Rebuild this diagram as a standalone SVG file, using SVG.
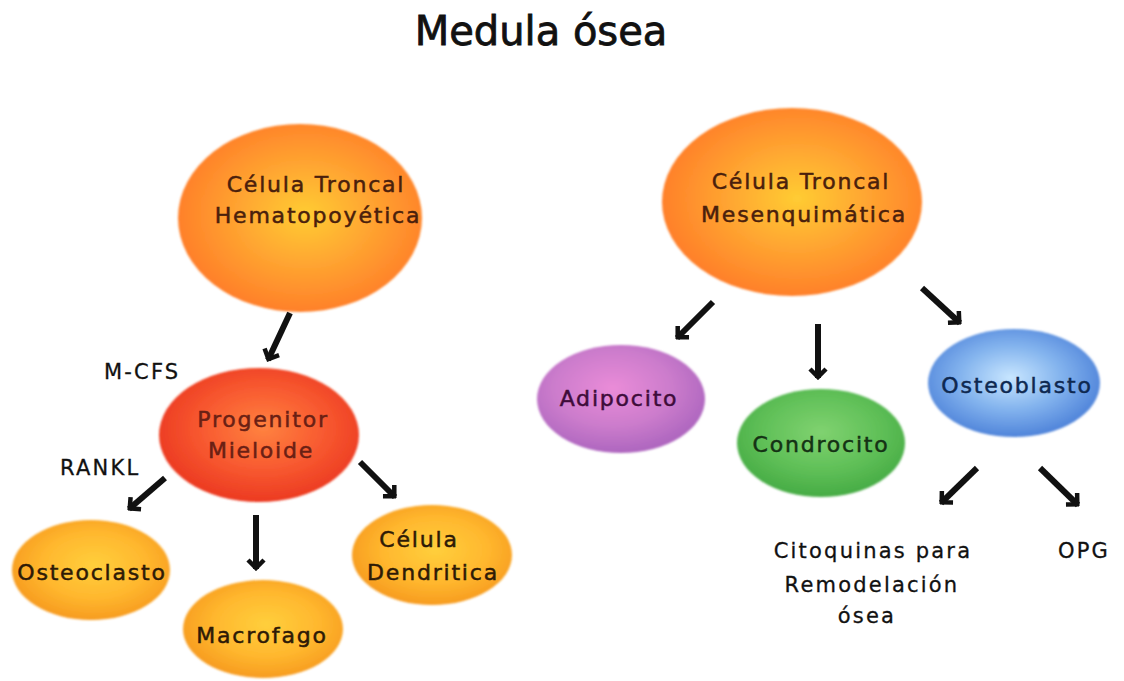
<svg xmlns="http://www.w3.org/2000/svg" width="1124" height="681" viewBox="0 0 1124 681">
<style>
  .title { font-family: "DejaVu Sans", Verdana, sans-serif; font-size: 40px; fill: #111; stroke: #111; stroke-width: 0.8px; }
  .nt { font-family: "DejaVu Sans", Verdana, sans-serif; font-size: 22px; letter-spacing: 1.8px; text-anchor: middle; stroke-width: 0.5px; }
  .lb { font-family: "DejaVu Sans", Verdana, sans-serif; font-size: 21px; letter-spacing: 2.2px; fill: #111; stroke: #111; stroke-width: 0.3px; }
  .conn line { stroke: #111; stroke-width: 6; marker-end: url(#chev); }
  .cell { filter: url(#soft); }
</style>
<defs>
  <filter id="soft" x="-10%" y="-10%" width="120%" height="120%">
    <feGaussianBlur stdDeviation="1.2"/>
  </filter>
  <marker id="chev" viewBox="-12 -10 14 20" refX="0" refY="0" markerWidth="14" markerHeight="20" markerUnits="userSpaceOnUse" orient="auto">
    <path d="M -9 -8 L -1 0 L -9 8" fill="none" stroke="#111" stroke-width="4.5"/>
  </marker>
  <radialGradient id="gBig" cx="52%" cy="48%" r="55%">
    <stop offset="0" stop-color="#ffcc34"/>
    <stop offset="0.5" stop-color="#ffa430"/>
    <stop offset="1" stop-color="#ff7c2a"/>
  </radialGradient>
  <radialGradient id="gRed" cx="52%" cy="45%" r="55%">
    <stop offset="0" stop-color="#ff8240"/>
    <stop offset="0.55" stop-color="#f85a30"/>
    <stop offset="1" stop-color="#ec3a22"/>
  </radialGradient>
  <radialGradient id="gSm" cx="52%" cy="45%" r="55%">
    <stop offset="0" stop-color="#ffcf3c"/>
    <stop offset="0.6" stop-color="#ffb72e"/>
    <stop offset="1" stop-color="#f79c20"/>
  </radialGradient>
  <radialGradient id="gPur" cx="45%" cy="40%" r="58%">
    <stop offset="0" stop-color="#ea8cd8"/>
    <stop offset="0.6" stop-color="#cc7ccc"/>
    <stop offset="1" stop-color="#b068c0"/>
  </radialGradient>
  <radialGradient id="gGrn" cx="50%" cy="40%" r="58%">
    <stop offset="0" stop-color="#80d270"/>
    <stop offset="0.6" stop-color="#60c058"/>
    <stop offset="1" stop-color="#48ad46"/>
  </radialGradient>
  <radialGradient id="gBlu" cx="48%" cy="45%" r="58%">
    <stop offset="0" stop-color="#c8e6ff"/>
    <stop offset="0.5" stop-color="#84b4ee"/>
    <stop offset="1" stop-color="#4a7fd8"/>
  </radialGradient>
</defs>
<rect width="1124" height="681" fill="#fff"/>
<text class="title" x="541" y="45" text-anchor="middle">Medula ósea</text>

<g id="hematopoyetica">
  <ellipse class="cell" cx="300" cy="218" rx="122" ry="94" fill="url(#gBig)"/>
  <text class="nt" fill="#4a200c" stroke="#4a200c"><tspan x="316" y="192">Célula Troncal</tspan><tspan x="318" y="223">Hematopoyética</tspan></text>
</g>
<g id="mesenquimatica">
  <ellipse class="cell" cx="792" cy="202" rx="130" ry="94" fill="url(#gBig)"/>
  <text class="nt" fill="#4a200c" stroke="#4a200c"><tspan x="801" y="189">Célula Troncal</tspan><tspan x="804" y="222">Mesenquimática</tspan></text>
</g>
<g id="progenitor">
  <ellipse class="cell" cx="259" cy="435" rx="100" ry="67" fill="url(#gRed)"/>
  <text class="nt" fill="#6a2014" stroke="#6a2014"><tspan x="263" y="427">Progenitor</tspan><tspan x="261" y="458">Mieloide</tspan></text>
</g>
<g id="osteoclasto">
  <ellipse class="cell" cx="91" cy="570" rx="79" ry="50" fill="url(#gSm)"/>
  <text class="nt" fill="#2e1a06" stroke="#2e1a06" x="92" y="580">Osteoclasto</text>
</g>
<g id="macrofago">
  <ellipse class="cell" cx="263" cy="629" rx="80" ry="49" fill="url(#gSm)"/>
  <text class="nt" fill="#2e1a06" stroke="#2e1a06" x="262" y="643">Macrofago</text>
</g>
<g id="dendritica">
  <ellipse class="cell" cx="432" cy="555" rx="80" ry="50" fill="url(#gSm)"/>
  <text class="nt" fill="#2e1a06" stroke="#2e1a06"><tspan x="419" y="547">Célula</tspan><tspan x="433" y="580">Dendritica</tspan></text>
</g>
<g id="adipocito">
  <ellipse class="cell" cx="621" cy="399" rx="84" ry="54" fill="url(#gPur)"/>
  <text class="nt" fill="#3e0c3a" stroke="#3e0c3a" x="619" y="406">Adipocito</text>
</g>
<g id="condrocito">
  <ellipse class="cell" cx="821" cy="443" rx="84" ry="54" fill="url(#gGrn)"/>
  <text class="nt" fill="#143214" stroke="#143214" x="821" y="452">Condrocito</text>
</g>
<g id="osteoblasto">
  <ellipse class="cell" cx="1014" cy="383" rx="86" ry="54" fill="url(#gBlu)"/>
  <text class="nt" fill="#0e2850" stroke="#0e2850" x="1017" y="393">Osteoblasto</text>
</g>
<g id="citoquinas">
  <text class="lb" text-anchor="middle"><tspan x="873" y="558">Citoquinas para</tspan><tspan x="872" y="592">Remodelación</tspan><tspan x="867" y="623">ósea</tspan></text>
</g>
<g id="opg">
  <text class="lb" x="1058" y="558">OPG</text>
</g>
<g id="labels">
  <text class="lb" x="104" y="379">M-CFS</text>
  <text class="lb" x="60" y="475">RANKL</text>
</g>

<g id="connectors" class="conn">
  <line x1="290" y1="313" x2="268" y2="360"/>
  <line x1="165" y1="478" x2="129" y2="509"/>
  <line x1="256" y1="515" x2="256" y2="569"/>
  <line x1="360" y1="462" x2="395" y2="497"/>
  <line x1="713" y1="302" x2="677" y2="338"/>
  <line x1="818" y1="324" x2="818" y2="378"/>
  <line x1="922" y1="288" x2="960" y2="323"/>
  <line x1="977" y1="468" x2="941" y2="503"/>
  <line x1="1040" y1="468" x2="1078" y2="505"/>
</g>
</svg>
